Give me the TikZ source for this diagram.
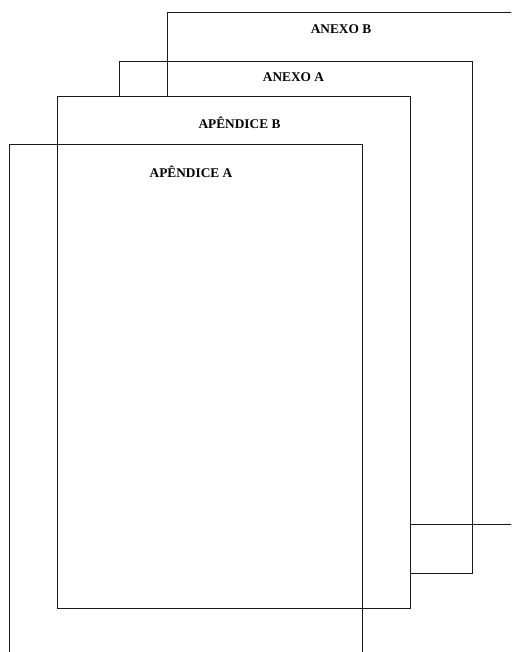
\documentclass[tikz,border=0pt]{standalone}
\usepackage{fontspec}
\setmainfont{Liberation Serif}
\usepackage{xcolor}
\definecolor{linha}{HTML}{1A1A1A}
\usetikzlibrary{positioning, calc}
\tikzset{
  folha/.style ={rectangle, draw=linha, line width=0.65pt, minimum width=264.75pt, minimum height=384pt, inner sep=0pt},
  folhab/.style={folha, fill=white},
  rotulo/.style={font=\bfseries\fontsize{10}{12}\selectfont, text=black, anchor=base, inner sep=0pt},
}
\begin{document}
\begin{tikzpicture}[x=0.75pt, y=-0.75pt]
  \useasboundingbox (0,0) rectangle (511,652);
  \clip (0,0) rectangle (511,652);
  \node[folha] (anexoB) at (343.5,268.5) {};
  \node[folha] (anexoA) at (295.5,317) {};
  \node[folhab] (apendB) at (233.5,352.5) {};
  \node[folha] (apendA) at (185.5,400.5) {};
  \node[rotulo] (tanexoB) at ($(anexoB.north)+(-2.5,21)$) {ANEXO B};
  \node[rotulo] (tanexoA) at ($(anexoA.north)+(-2,21)$) {ANEXO A};
  \node[rotulo] (tapendB) at ($(apendB.north)+(6,32.5)$) {APÊNDICE B};
  \node[rotulo] (tapendA) at ($(apendA.north)+(5.5,33)$) {APÊNDICE A};
\end{tikzpicture}
\end{document}
